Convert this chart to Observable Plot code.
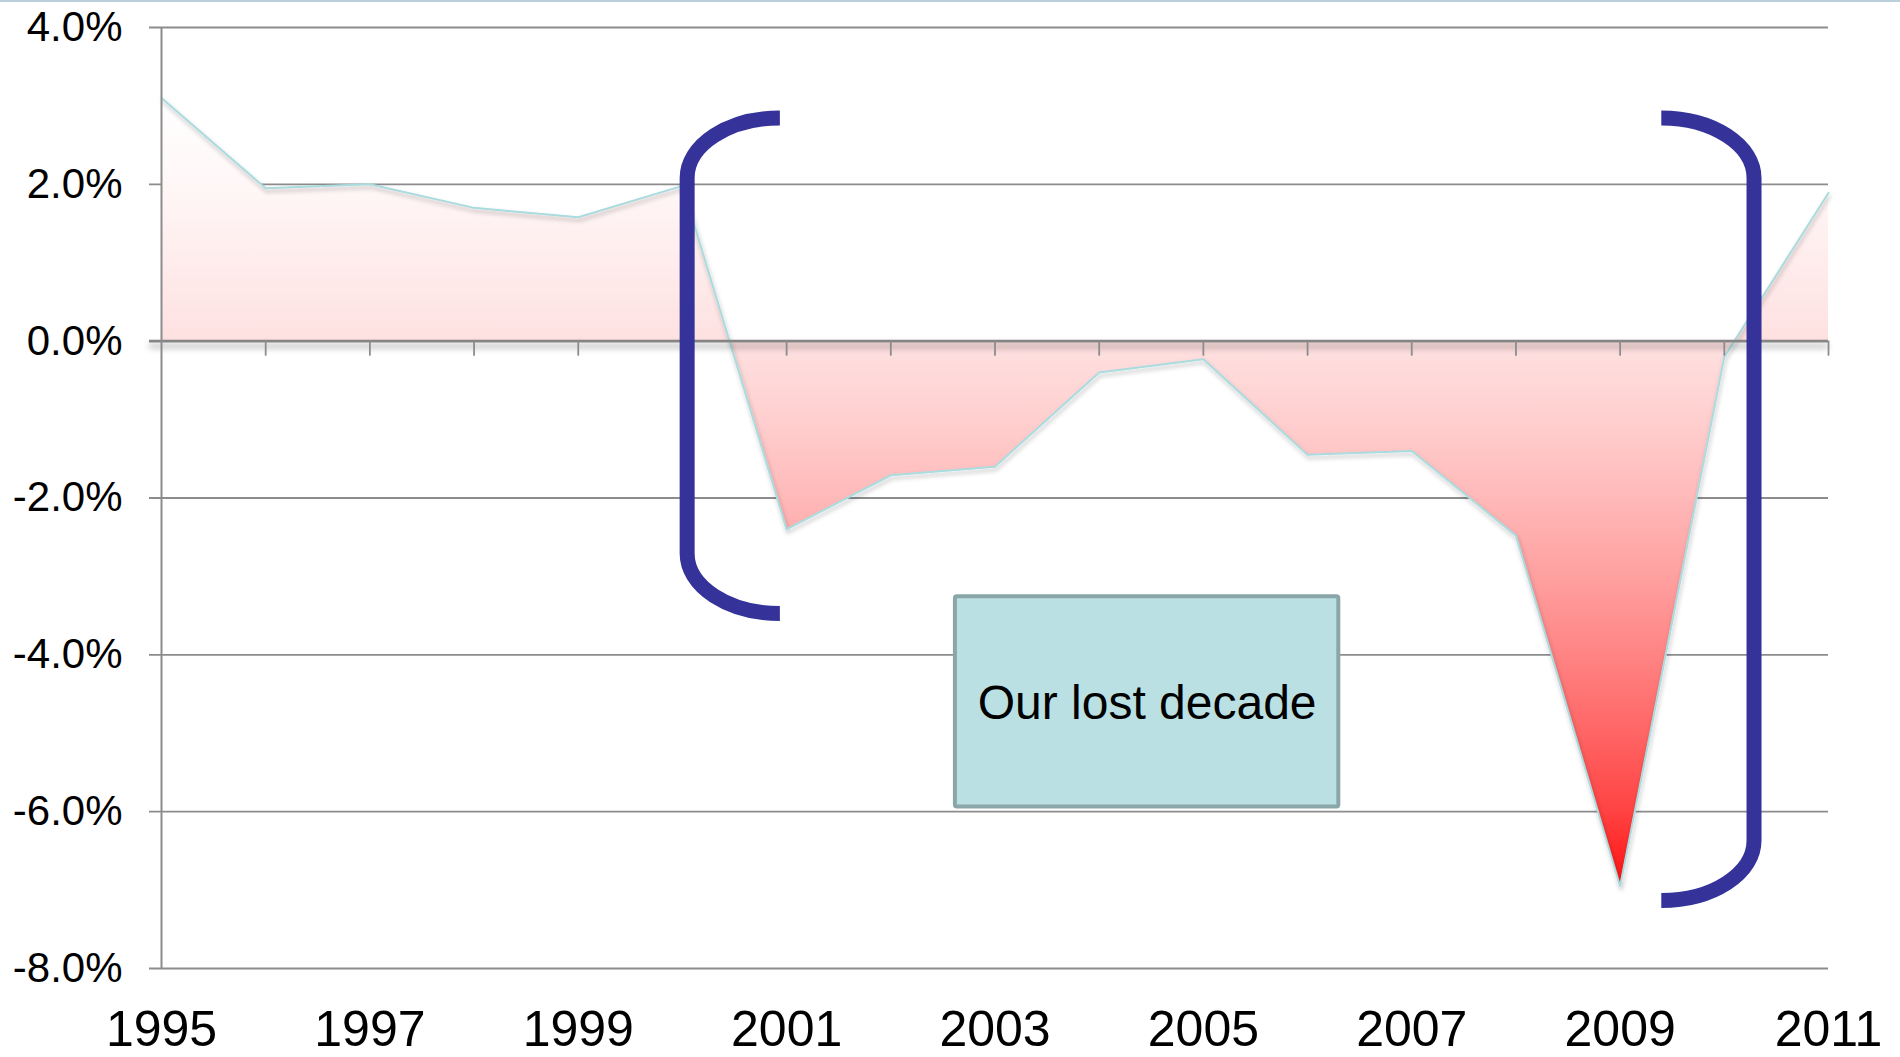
<!DOCTYPE html>
<html><head><meta charset="utf-8">
<script src="https://cdn.jsdelivr.net/npm/d3@7"></script>
<script src="https://cdn.jsdelivr.net/npm/@observablehq/plot@0.6"></script>
<style>
html,body{margin:0;padding:0;background:#fff;}
#chart{position:relative;width:1900px;height:1057px;overflow:hidden;}
#topline{position:absolute;left:0;top:0;width:1900px;height:2px;background:#bccfdc;z-index:2;}
</style></head><body>
<div id="chart"><div id="topline"></div></div>
<script>
// ---- data ----
const years = [1995,1996,1997,1998,1999,2000,2001,2002,2003,2004,2005,2006,2007,2008,2009,2010,2011];
const growth = [3.10,1.95,2.00,1.70,1.58,1.98,-2.40,-1.71,-1.60,-0.40,-0.23,-1.45,-1.40,-2.48,-6.95,-0.20,1.89];
const yTicks = [-8,-6,-4,-2,0,2,4];
const xLabelYears = [1995,1997,1999,2001,2003,2005,2007,2009,2011];
const boxLabel = "Our lost decade";

// annotation anchors (data units)
const boxSpan = {x1: 2002.62, x2: 2006.30, y1: -3.26, y2: -5.94};
const labelPos = {x: 2004.46, y: -4.62};
const brackets = [
  {vert: 2000.05, tip: 2000.94, top: 2.84, bottom: -3.48, sweep: 0},
  {vert: 2010.29, tip: 2009.40, top: 2.84, bottom: -7.14, sweep: 1}
];

const data = years.map((y, i) => ({year: y, value: growth[i]}));
const font = "'Liberation Sans', Arial, Helvetica, sans-serif";
const W = 1900, H = 1057, mL = 161, mR = 72, mT = 27, mB = 89;
const gridColor = "#8c8c8c", zeroColor = "#858585";

const plot = Plot.plot({
  width: W, height: H,
  marginLeft: mL, marginRight: mR, marginTop: mT, marginBottom: mB,
  style: {fontFamily: font, background: "white", color: "black", overflow: "visible"},
  x: {domain: [1995, 2011], label: null},
  y: {domain: [-8, 4], label: null},
  marks: [
    Plot.ruleY(yTicks.filter(d => d !== 0), {y: d => d, stroke: gridColor, strokeWidth: 1.8, insetLeft: -12}),
    Plot.areaY(data, {x: "year", y1: 0, y2: "value", fill: "url(#redgrad)"}),
    Plot.line(data, {x: "year", y: "value", stroke: "#aadbde", strokeWidth: 2}),
    Plot.ruleY([0], {y: d => d, stroke: zeroColor, strokeWidth: 2.6, insetLeft: -12}),
    Plot.ruleX(years.slice(1), {x: d => d, y1: () => 0, y2: () => 0, insetTop: 15, stroke: gridColor, strokeWidth: 1.8}),
    Plot.ruleX([1995], {x: d => d, stroke: gridColor, strokeWidth: 2}),
    Plot.axisY({ticks: yTicks, tickFormat: d => d.toFixed(1) + "%", tickSize: 0, tickPadding: 39, fontSize: 42, label: null}),
    Plot.axisX({ticks: xLabelYears, tickFormat: d => String(d), tickSize: 0, tickPadding: 42, fontSize: 50, label: null}),
    Plot.rect([boxSpan], {x1: "x1", x2: "x2", y1: "y1", y2: "y2", fill: "#bbe0e3", stroke: "#8aa6a9", strokeWidth: 4, rx: 2}),
    Plot.text([labelPos], {x: "x", y: "y", text: () => boxLabel, fontSize: 48, fill: "black"})
  ]
});

const svg = d3.select(plot);
svg.insert("defs", ":first-child").html(`
  <linearGradient id="redgrad" x1="0" y1="0" x2="0" y2="1">
    <stop offset="0" stop-color="#ffffff"/>
    <stop offset="0.109" stop-color="#fff7f7"/>
    <stop offset="0.308" stop-color="#fee1e1"/>
    <stop offset="0.408" stop-color="#ffcfcf"/>
    <stop offset="0.507" stop-color="#ffb9b9"/>
    <stop offset="0.607" stop-color="#ffa0a0"/>
    <stop offset="0.706" stop-color="#ff8484"/>
    <stop offset="0.806" stop-color="#ff6565"/>
    <stop offset="0.905" stop-color="#ff4343"/>
    <stop offset="1" stop-color="#ff1010"/>
  </linearGradient>
  <filter id="lineShadow" filterUnits="userSpaceOnUse" x="0" y="0" width="${W}" height="${H}">
    <feDropShadow dx="1" dy="3" stdDeviation="2" flood-color="#000" flood-opacity="0.28"/>
  </filter>
  <filter id="zeroShadow" filterUnits="userSpaceOnUse" x="0" y="0" width="${W}" height="${H}">
    <feDropShadow dx="0" dy="5" stdDeviation="3" flood-color="#000" flood-opacity="0.4"/>
  </filter>`);
svg.select('g[aria-label="line"]').attr("filter", "url(#lineShadow)");
svg.selectAll('g[aria-label="rule"]').filter(function () { return this.getAttribute("stroke") === zeroColor; }).attr("filter", "url(#zeroShadow)");

// brackets drawn through the plot's own scales
const sx = plot.scale("x"), sy = plot.scale("y");
const lin = s => s.apply ? (v => s.apply(v)) : (v => s.range[0] + (v - s.domain[0]) / (s.domain[1] - s.domain[0]) * (s.range[1] - s.range[0]));
const X = lin(sx), Y = lin(sy);
const bg = svg.append("g").attr("aria-label", "brackets");
for (const b of brackets) {
  const xv = X(b.vert), xt = X(b.tip), yt = Y(b.top), yb = Y(b.bottom);
  const rx = Math.abs(xt - xv), ry = 60;
  const d = `M${xt},${yt} A${rx},${ry} 0 0 ${b.sweep} ${xv},${yt + ry} L${xv},${yb - ry} A${rx},${ry} 0 0 ${b.sweep} ${xt},${yb}`;
  bg.append("path").attr("d", d).attr("fill", "none").attr("stroke", "#35339a").attr("stroke-width", 15);
}

document.getElementById("chart").appendChild(plot);
</script>
</body></html>
